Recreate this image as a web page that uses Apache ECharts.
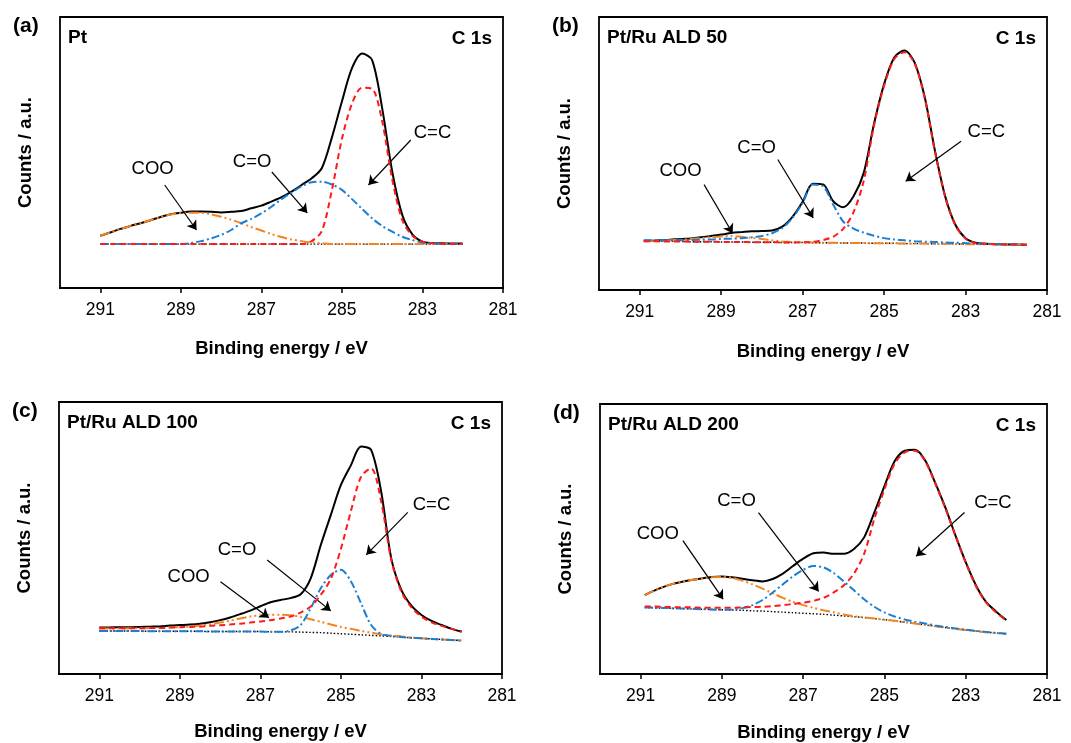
<!DOCTYPE html>
<html>
<head>
<meta charset="utf-8">
<script src="https://cdn.jsdelivr.net/npm/echarts@6.0.0/dist/echarts.min.js"></script>
<style>
html, body { margin: 0; padding: 0; background: #fff; }
#chart { width: 1071px; height: 743px; }
</style>
</head>
<body>
<div id="chart"></div>
<script>
const FONT = '"Liberation Sans", Arial, sans-serif';

const tickValues = [291, 289, 287, 285, 283, 281];
const panelLabels = ['(a)', '(b)', '(c)', '(d)'];
const sampleNames = ['Pt', 'Pt/Ru ALD 50', 'Pt/Ru ALD 100', 'Pt/Ru ALD 200'];
const peakNames = ['COO', 'C=O', 'C=C'];

// binding energies (eV) of the sampled points
const energyA = [291, 290.75, 290.5, 290.25, 290, 289.75, 289.5, 289.25, 289, 288.75, 288.5, 288.25, 288, 287.75, 287.5, 287.25, 287, 286.75, 286.5, 286.25, 286, 285.75, 285.5, 285.25, 285, 284.75, 284.5, 284.25, 284, 283.75, 283.5, 283.25, 283, 282.75, 282.5, 282.25, 282];
const energyB = [290.9, 290.75, 290.5, 290.25, 290, 289.75, 289.5, 289.25, 289, 288.75, 288.5, 288.25, 288, 287.75, 287.5, 287.25, 287, 286.75, 286.5, 286.25, 286, 285.75, 285.5, 285.25, 285, 284.75, 284.5, 284.25, 284, 283.75, 283.5, 283.25, 283, 282.75, 282.5, 282.25, 282, 281.75, 281.5];
const energyC = [291, 290.75, 290.5, 290.25, 290, 289.75, 289.5, 289.25, 289, 288.75, 288.5, 288.25, 288, 287.75, 287.5, 287.25, 287, 286.75, 286.5, 286.25, 286, 285.75, 285.5, 285.25, 285, 284.75, 284.5, 284.25, 284, 283.75, 283.5, 283.25, 283, 282.75, 282.5, 282.25, 282];
const energyD = [290.9, 290.75, 290.5, 290.25, 290, 289.75, 289.5, 289.25, 289, 288.75, 288.5, 288.25, 288, 287.75, 287.5, 287.25, 287, 286.75, 286.5, 286.25, 286, 285.75, 285.5, 285.25, 285, 284.75, 284.5, 284.25, 284, 283.75, 283.5, 283.25, 283, 282.75, 282.5, 282.25, 282];

// (a) Pt
const envA = [19.3, 20.5, 21.8, 22.9, 23.9, 25.0, 26.2, 27.2, 27.8, 28.2, 28.2, 28.1, 27.9, 28.1, 28.4, 29.4, 30.4, 31.9, 33.5, 35.6, 38.0, 40.5, 44.2, 55.5, 68.8, 81.1, 86.5, 84.1, 66.3, 42.9, 26.9, 19.8, 17.1, 16.6, 16.5, 16.4, 16.4];
const ccA = [16.2, 16.2, 16.2, 16.2, 16.2, 16.2, 16.2, 16.2, 16.2, 16.2, 16.2, 16.2, 16.2, 16.2, 16.2, 16.2, 16.2, 16.2, 16.2, 16.2, 16.2, 17.3, 21.0, 36.0, 55.0, 68.0, 73.9, 73.5, 61.5, 40.0, 25.0, 19.3, 17.1, 16.5, 16.3, 16.2, 16.2];
const coA = [16.2, 16.2, 16.2, 16.2, 16.2, 16.2, 16.2, 16.2, 16.2, 16.6, 17.3, 18.3, 19.6, 21.4, 23.9, 25.5, 27.5, 30.0, 32.8, 35.2, 37.6, 39.0, 39.2, 38.2, 36.2, 32.8, 29.2, 25.7, 22.9, 20.8, 18.9, 17.7, 16.8, 16.5, 16.3, 16.2, 16.2];
const cooA = [19.3, 20.5, 21.8, 22.9, 23.9, 25.0, 26.2, 27.1, 27.7, 27.8, 27.7, 27.2, 26.3, 25.2, 23.9, 22.5, 21.2, 19.9, 18.8, 17.9, 17.3, 16.8, 16.5, 16.2, 16.2, 16.2, 16.2, 16.2, 16.2, 16.2, 16.2, 16.2, 16.2, 16.2, 16.2, 16.2, 16.2];
const bgA = [16.2, 16.2, 16.2, 16.2, 16.2, 16.2, 16.2, 16.2, 16.2, 16.2, 16.2, 16.2, 16.2, 16.2, 16.2, 16.2, 16.2, 16.2, 16.2, 16.2, 16.2, 16.2, 16.2, 16.2, 16.2, 16.2, 16.2, 16.2, 16.2, 16.2, 16.2, 16.2, 16.2, 16.2, 16.2, 16.2, 16.2];

// (b) Pt/Ru ALD 50
const envB = [18.0, 18.0, 18.2, 18.4, 18.7, 18.9, 19.3, 19.8, 20.3, 20.9, 21.2, 21.5, 21.6, 21.8, 23.2, 26.8, 32.3, 38.9, 38.7, 32.5, 30.3, 34.3, 42.9, 60.7, 75.4, 85.2, 87.7, 83.3, 70.5, 50.9, 34.3, 23.9, 19.0, 17.3, 16.9, 16.8, 16.7, 16.7, 16.6];
const ccB = [17.9, 17.9, 17.8, 17.8, 17.8, 17.7, 17.7, 17.7, 17.6, 17.6, 17.6, 17.5, 17.5, 17.5, 17.4, 17.4, 17.5, 17.6, 18.3, 19.5, 22.5, 28.5, 40.0, 60.1, 74.8, 84.6, 87.1, 83.0, 70.1, 50.6, 34.1, 23.7, 18.8, 17.2, 16.9, 16.8, 16.7, 16.7, 16.6];
const coB = [18.2, 18.2, 18.2, 18.2, 18.3, 18.3, 18.4, 18.5, 18.7, 18.8, 19.0, 19.3, 19.8, 20.8, 22.7, 26.4, 31.9, 38.6, 38.0, 31.3, 25.0, 22.5, 21.0, 19.9, 19.0, 18.5, 18.2, 17.9, 17.7, 17.6, 17.4, 17.3, 17.2, 17.1, 16.9, 16.8, 16.8, 16.7, 16.7];
const cooB = [17.9, 17.9, 18.0, 18.2, 18.4, 18.7, 19.0, 19.4, 19.6, 19.8, 19.5, 19.1, 18.7, 18.2, 17.8, 17.6, 17.5, 17.4, 17.3, 17.3, 17.2, 17.2, 17.2, 17.1, 17.1, 17.1, 17.0, 17.0, 17.0, 16.9, 16.9, 16.9, 16.8, 16.8, 16.8, 16.7, 16.7, 16.7, 16.6];
const bgB = [17.9, 17.9, 17.8, 17.8, 17.8, 17.7, 17.7, 17.7, 17.6, 17.6, 17.6, 17.5, 17.5, 17.5, 17.4, 17.4, 17.4, 17.3, 17.3, 17.3, 17.2, 17.2, 17.2, 17.1, 17.1, 17.1, 17.0, 17.0, 17.0, 16.9, 16.9, 16.9, 16.8, 16.8, 16.8, 16.7, 16.7, 16.7, 16.6];

// (c) Pt/Ru ALD 100
const envC = [17.1, 17.1, 17.2, 17.2, 17.3, 17.4, 17.5, 17.8, 18.0, 18.2, 18.5, 19.0, 19.8, 20.8, 22.0, 23.3, 24.9, 26.4, 27.2, 27.9, 29.3, 35.2, 47.4, 58.5, 69.5, 76.8, 83.6, 82.4, 67.0, 42.5, 30.9, 25.1, 21.7, 19.5, 18.0, 16.6, 15.6];
const ccC = [16.8, 16.8, 16.8, 16.8, 16.8, 16.9, 16.9, 17.1, 17.2, 17.3, 17.4, 17.7, 17.9, 18.2, 18.5, 18.9, 19.3, 19.8, 20.4, 21.1, 22.6, 24.8, 29.1, 35.0, 46.0, 60.0, 72.5, 75.6, 63.4, 41.9, 30.3, 24.5, 21.1, 19.0, 17.7, 16.6, 15.5];
const coC = [15.8, 15.8, 15.8, 15.8, 15.8, 15.7, 15.7, 15.7, 15.7, 15.7, 15.7, 15.6, 15.6, 15.6, 15.6, 15.6, 15.6, 15.5, 15.5, 16.0, 18.0, 24.2, 31.5, 36.4, 38.3, 34.0, 26.0, 18.0, 14.7, 14.0, 13.6, 13.3, 13.1, 12.9, 12.7, 12.5, 12.3];
const cooC = [16.7, 16.7, 16.7, 16.8, 16.8, 16.9, 16.9, 17.1, 17.2, 17.4, 17.8, 18.3, 18.9, 19.6, 20.4, 21.1, 21.6, 21.8, 21.8, 21.6, 21.0, 20.1, 19.2, 18.2, 17.3, 16.6, 15.8, 15.2, 14.6, 14.1, 13.8, 13.4, 13.1, 12.9, 12.7, 12.5, 12.3];
const bgC = [15.8, 15.8, 15.8, 15.8, 15.8, 15.7, 15.7, 15.7, 15.7, 15.7, 15.7, 15.6, 15.6, 15.6, 15.6, 15.6, 15.6, 15.5, 15.5, 15.5, 15.4, 15.3, 15.2, 15.0, 14.8, 14.6, 14.4, 14.2, 14.0, 13.8, 13.6, 13.3, 13.1, 12.9, 12.7, 12.5, 12.3];

// (d) Pt/Ru ALD 200
const envD = [29.2, 30.3, 31.9, 33.2, 34.1, 34.8, 35.4, 35.9, 36.1, 35.8, 35.3, 34.7, 34.3, 35.2, 37.2, 40.0, 42.7, 44.7, 45.0, 44.5, 44.5, 46.3, 50.6, 59.8, 69.6, 78.8, 82.7, 83.1, 79.2, 70.8, 61.6, 51.2, 41.4, 32.9, 26.7, 23.1, 20.0];
const ccD = [25.0, 25.0, 24.9, 24.8, 24.7, 24.7, 24.5, 24.5, 24.5, 24.5, 24.7, 24.8, 24.9, 25.1, 25.5, 25.9, 26.4, 27.1, 28.2, 30.2, 32.9, 37.2, 44.5, 57.4, 68.4, 77.9, 82.1, 82.7, 78.8, 70.5, 61.3, 51.0, 41.2, 32.6, 26.5, 22.8, 19.8];
const coD = [24.6, 24.6, 24.5, 24.4, 24.3, 24.2, 24.0, 23.9, 23.8, 23.9, 24.4, 25.5, 27.4, 30.2, 33.2, 36.2, 38.6, 40.0, 39.5, 37.4, 34.3, 31.0, 27.7, 24.9, 22.8, 21.3, 20.2, 19.4, 18.7, 18.0, 17.4, 16.9, 16.4, 16.0, 15.6, 15.2, 14.9];
const cooD = [29.2, 30.3, 31.9, 33.2, 34.1, 34.8, 35.4, 35.8, 35.9, 35.6, 34.6, 33.2, 31.6, 29.9, 28.2, 26.7, 25.5, 24.5, 23.6, 22.9, 22.0, 21.4, 21.0, 20.6, 20.1, 19.7, 19.2, 18.7, 18.2, 17.7, 17.2, 16.7, 16.3, 15.9, 15.5, 15.2, 14.9];
const bgD = [24.6, 24.5, 24.4, 24.3, 24.2, 24.1, 24.0, 23.9, 23.8, 23.7, 23.6, 23.4, 23.3, 23.1, 22.9, 22.7, 22.5, 22.3, 22.1, 21.8, 21.5, 21.2, 20.9, 20.5, 20.1, 19.7, 19.2, 18.7, 18.2, 17.7, 17.2, 16.7, 16.3, 15.9, 15.5, 15.2, 14.9];

const panels = [
	{ energy: energyA, env: envA, cc: ccA, co: coA, coo: cooA, bg: bgA },
	{ energy: energyB, env: envB, cc: ccB, co: coB, coo: cooB, bg: bgB },
	{ energy: energyC, env: envC, cc: ccC, co: coC, coo: cooC, bg: bgC },
	{ energy: energyD, env: envD, cc: ccD, co: coD, coo: cooD, bg: bgD },
];

// ---- layout (pixels) ----
const grids = [
	{ left: 60, top: 17, width: 443, height: 271 },
	{ left: 599, top: 17, width: 448, height: 273 },
	{ left: 59, top: 402, width: 443, height: 272 },
	{ left: 600, top: 404, width: 447, height: 272 },
];
const xNameGaps = [51, 52, 48, 49];

// annotation anchors in data space, per peak (COO, C=O, C=C):
// [text E, text y, arrow start E, arrow start y, arrow end E, arrow end y]
const noteAnchors = [
	[[289.70, 43.9, 289.40, 38.0, 288.61, 21.4], [287.23, 46.5, 286.74, 42.8, 285.86, 27.7], [282.75, 57.2, 283.29, 54.6, 284.34, 38.0]],
	[[290.00, 43.5, 289.42, 38.6, 288.72, 20.8], [288.13, 52.1, 287.61, 47.8, 286.74, 26.4], [282.49, 58.0, 283.11, 54.5, 284.47, 39.8]],
	[[288.78, 35.8, 287.99, 33.9, 286.79, 20.7], [287.58, 45.6, 286.83, 41.9, 285.25, 23.2], [282.75, 62.1, 283.34, 59.4, 284.37, 43.8]],
	[[290.58, 51.8, 289.96, 49.4, 288.97, 27.7], [288.64, 64.1, 288.10, 59.8, 286.62, 30.6], [282.33, 63.5, 283.03, 59.8, 284.22, 43.6]],
];

const styles = {
	env: { color: '#000000', width: 2, type: 'solid' },
	cc: { color: '#ff1a1a', width: 2, type: [6, 4] },
	co: { color: '#1a7fd4', width: 2, type: [8, 3, 2, 3] },
	coo: { color: '#f5841f', width: 2, type: [10, 3, 2, 3, 2, 3] },
	bg: { color: '#000000', width: 1.4, type: [1.5, 2] },
};

function pairs(xs, ys) {
	return xs.map((x, i) => [x, ys[i]]);
}

function curve(idx, xs, ys, style, z) {
	return {
		type: 'line',
		xAxisIndex: idx,
		yAxisIndex: idx,
		data: pairs(xs, ys),
		symbol: 'none',
		showSymbol: false,
		smooth: 0.3,
		silent: true,
		animation: false,
		lineStyle: style,
		z: z,
	};
}

const series = [];
const xAxes = [];
const yAxes = [];
const graphics = [];

panels.forEach((p, idx) => {
	const bgSeries = curve(idx, p.energy, p.bg, styles.bg, 2);
	const notes = noteAnchors[idx];
	// arrows + peak names
	bgSeries.markLine = {
		silent: true,
		animation: false,
		symbol: ['none', 'arrow'],
		symbolSize: 9,
		label: { show: false },
		lineStyle: { color: '#000', width: 1.2, type: 'solid' },
		data: notes.map((n) => [{ coord: [n[2], n[3]] }, { coord: [n[4], n[5]] }]),
	};
	bgSeries.markPoint = {
		silent: true,
		animation: false,
		symbol: 'circle',
		symbolSize: 0,
		label: {
			show: true,
			position: 'inside',
			formatter: '{b}',
			color: '#000',
			fontFamily: FONT,
			fontSize: 18.5,
		},
		data: notes.map((n, k) => ({ name: peakNames[k], coord: [n[0], n[1]] })),
	};
	series.push(bgSeries);
	series.push(curve(idx, p.energy, p.env, styles.env, 3));
	series.push(curve(idx, p.energy, p.coo, styles.coo, 4));
	series.push(curve(idx, p.energy, p.co, styles.co, 5));
	series.push(curve(idx, p.energy, p.cc, styles.cc, 6));

	xAxes.push({
		type: 'value',
		gridIndex: idx,
		inverse: true,
		min: 281,
		max: 292,
		interval: 2,
		name: 'Binding energy / eV',
		nameLocation: 'middle',
		nameGap: xNameGaps[idx],
		nameTextStyle: { fontFamily: FONT, fontSize: 18.5, fontWeight: 'bold', color: '#000' },
		axisLine: { show: true, lineStyle: { color: '#000', width: 1.8 } },
		axisTick: { show: true, inside: false, length: 5, customValues: tickValues, lineStyle: { color: '#000', width: 1.5 } },
		axisLabel: { show: true, customValues: tickValues, margin: 13, fontFamily: FONT, fontSize: 17.5, color: '#000' },
		splitLine: { show: false },
	});
	yAxes.push({
		type: 'value',
		gridIndex: idx,
		min: 0,
		max: 100,
		name: 'Counts / a.u.',
		nameLocation: 'middle',
		nameGap: 25,
		nameRotate: 90,
		nameTextStyle: { fontFamily: FONT, fontSize: 18.5, fontWeight: 'bold', color: '#000' },
		axisLine: { show: false },
		axisTick: { show: false },
		axisLabel: { show: false },
		splitLine: { show: false },
	});

	const g = grids[idx];
	graphics.push({
		type: 'text',
		left: g.left - 47,
		top: g.top - 1,
		style: { text: panelLabels[idx], font: 'bold 21px ' + FONT, fill: '#000' },
	});
	graphics.push({
		type: 'text',
		left: g.left + 8,
		top: g.top + 11,
		style: { text: sampleNames[idx], font: 'bold 19px ' + FONT, fill: '#000' },
	});
	graphics.push({
		type: 'text',
		right: 1071 - (g.left + g.width) + 11,
		top: g.top + 12,
		style: { text: 'C 1s', font: 'bold 19px ' + FONT, fill: '#000' },
	});
});

const chart = echarts.init(document.getElementById('chart'), null, { renderer: 'canvas' });
chart.setOption({
	animation: false,
	backgroundColor: '#ffffff',
	grid: grids.map((g) => ({
		left: g.left,
		top: g.top,
		width: g.width,
		height: g.height,
		show: true,
		borderColor: '#000',
		borderWidth: 1.8,
		backgroundColor: 'transparent',
	})),
	xAxis: xAxes,
	yAxis: yAxes,
	series: series,
	graphic: graphics,
});
</script>
</body>
</html>
